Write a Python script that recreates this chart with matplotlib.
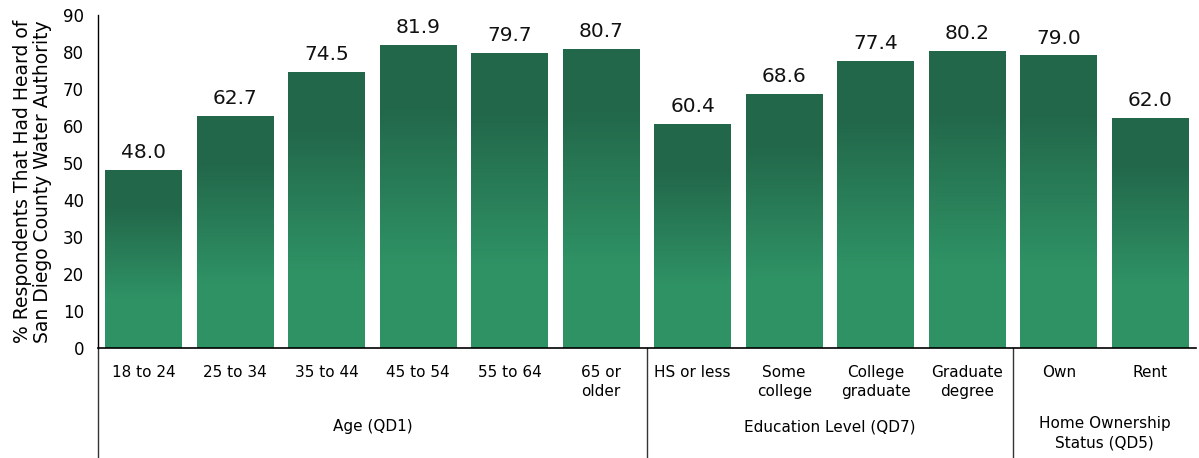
import numpy as np
import matplotlib
matplotlib.use('Agg')
from matplotlib import pyplot as plt
from matplotlib.colors import LinearSegmentedColormap
import matplotlib.transforms as mtransforms

categories = ['18 to 24', '25 to 34', '35 to 44', '45 to 54', '55 to 64', '65 or\nolder',
              'HS or less', 'Some\ncollege', 'College\ngraduate', 'Graduate\ndegree',
              'Own', 'Rent']
values = [48.0, 62.7, 74.5, 81.9, 79.7, 80.7, 60.4, 68.6, 77.4, 80.2, 79.0, 62.0]
groups = ['Age (QD1)', 'Education Level (QD7)', 'Home Ownership\nStatus (QD5)']
group_sizes = [6, 4, 2]

DARK = '#22674a'
LIGHT = '#2f9265'
cmap = LinearSegmentedColormap.from_list(
    'grn', [(0.0, LIGHT), (0.28, LIGHT), (0.8, DARK), (1.0, DARK)])

fig = plt.figure(figsize=(11.99, 4.58), dpi=100)
ax = fig.add_axes([0.0817, 0.2402, 0.9158, 0.727])

x = np.arange(len(categories))
width = 0.84
bars = ax.bar(x, values, width=width, color='none', edgecolor='none')

# vertical gradient inside each bar
grad = np.linspace(0, 1, 512).reshape(-1, 1)
for b in bars:
    x0, h = b.get_x(), b.get_height()
    ax.imshow(grad, extent=[x0, x0 + b.get_width(), 0, h], origin='lower',
              aspect='auto', cmap=cmap, interpolation='nearest', zorder=2)

for xi, v in zip(x, values):
    ax.text(xi, v + 2.2, f'{v:.1f}', ha='center', va='bottom', fontsize=14.5, color='#111111')

ax.set_xlim(-0.5, len(categories) - 0.5)
ax.set_ylim(0, 90)
ax.set_yticks(np.arange(0, 91, 10))
ax.tick_params(axis='y', length=0, pad=10, labelsize=12)
ax.set_xticks([])
for s in ['top', 'right']:
    ax.spines[s].set_visible(False)
ax.spines['left'].set_linewidth(1.0)
ax.spines['bottom'].set_linewidth(1.2)

ax.set_ylabel('% Respondents That Had Heard of\nSan Diego County Water Authority',
              fontsize=13.5, labelpad=8, linespacing=1.05)

trans = mtransforms.blended_transform_factory(ax.transData, ax.transAxes)

# category labels
for xi, c in zip(x, categories):
    ax.text(xi, -0.05, c, transform=trans, ha='center', va='top', fontsize=11,
            linespacing=1.35)

# group labels and separators
start = 0
bounds = [-0.5]
for g, n in zip(groups, group_sizes):
    mid = start + (n - 1) / 2
    if '\n' in g:
        ax.text(mid, -0.205, g, transform=trans, ha='center', va='top', fontsize=11,
                linespacing=1.35)
    else:
        ax.text(mid, -0.237, g, transform=trans, ha='center', va='center', fontsize=11)
    start += n
    bounds.append(start - 0.5)

for bx in bounds[:-1]:
    ax.plot([bx, bx], [0, -0.35], transform=trans, color='#333333', lw=1.0, clip_on=False)

fig.savefig('out.png', dpi=100)
